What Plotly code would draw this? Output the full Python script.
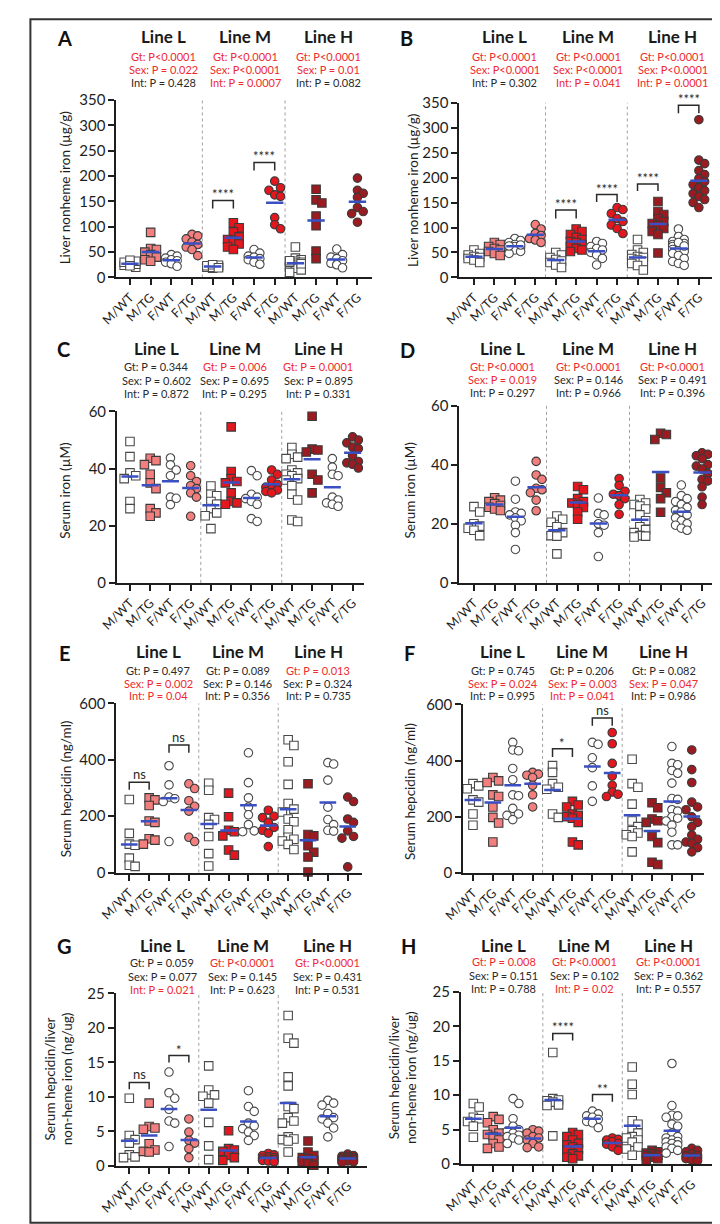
import numpy as np
import plotly.graph_objects as go

W, H = 720, 1224
FONT = "Lato"

groups = ["M/WT", "M/TG", "F/WT", "F/TG"] * 3
line_names = ["Line L", "Line M", "Line H"]

# ---------------- data ----------------
liver_iron_A = [
    [20, 24, 26, 28, 30, 32, 34, 23],
    [89, 57, 55, 50, 45, 40, 35, 32],
    [45, 42, 38, 35, 33, 30, 27, 22],
    [85, 82, 76, 70, 65, 60, 55, 43],
    [18, 20, 21, 22, 23, 24, 20, 25, 19],
    [108, 98, 90, 80, 75, 72, 66, 60, 55],
    [55, 48, 42, 40, 37, 35, 30, 26],
    [190, 177, 172, 163, 160, 118, 104, 96],
    [60, 38, 35, 32, 30, 28, 26, 24, 22, 20, 18, 15, 10, 30, 27, 33],
    [174, 153, 147, 121, 102, 52, 37],
    [56, 45, 40, 37, 33, 28, 25, 19],
    [196, 172, 166, 158, 138, 130, 126, 109],
]
liver_iron_B = [
    [55, 48, 45, 42, 40, 38, 35, 30],
    [70, 66, 62, 58, 55, 52, 48, 44],
    [78, 74, 70, 66, 62, 60, 58, 55, 52, 48, 65, 63],
    [106, 97, 88, 84, 78, 75, 70],
    [50, 45, 40, 36, 33, 30, 25, 20],
    [97, 92, 86, 80, 76, 72, 70, 66, 62, 58, 52, 55],
    [72, 68, 62, 58, 55, 50, 45, 38, 25],
    [140, 136, 128, 118, 112, 105, 98, 88],
    [76, 55, 50, 46, 42, 40, 38, 35, 32, 28, 24, 15],
    [152, 132, 126, 118, 112, 108, 104, 98, 92, 86, 49],
    [97, 82, 76, 72, 68, 66, 64, 62, 60, 58, 56, 54, 52, 48, 44, 38, 32, 28, 24, 70, 63],
    [316, 235, 228, 214, 206, 198, 192, 186, 180, 174, 168, 162, 156, 150, 140],
]
serum_iron_C = [
    [49.5, 44.2, 38.5, 37.5, 36.5, 28.5, 26],
    [43.6, 42.8, 41.4, 38, 35, 33, 26, 24.5, 23.3],
    [43.7, 41.3, 39.5, 37.5, 30, 29.6, 27.4],
    [41, 37.5, 35.5, 34, 33, 31.5, 30, 23.3],
    [33.9, 31, 30.5, 28.5, 27.5, 26, 24.5, 23.5, 19],
    [54.6, 39, 36.5, 35.5, 35, 31.5, 28.5, 28, 27.5],
    [39.3, 37.5, 31, 30, 29.5, 28.5, 27.5, 22.5, 21.5],
    [39.5, 38, 36, 34.5, 33.5, 33, 32.5, 32, 31.5],
    [47.4, 45, 44, 43.5, 39.5, 38.5, 38, 37.5, 36.5, 36, 34, 31, 29, 22, 21.5],
    [58.3, 46.8, 46.5, 45.8, 38, 36, 31.5],
    [43.5, 40.5, 38, 37.5, 30, 29, 28, 27.5, 26.8],
    [51.1, 50, 49, 47.5, 47, 44.5, 42.5, 42, 41.5, 40.2],
]
serum_iron_D = [
    [25.8, 24, 20, 19.2, 18.5, 17.8, 16],
    [28.8, 28, 27.5, 26.8, 26.2, 25.6, 25, 24.5],
    [34.4, 28.3, 24, 23.5, 23, 22, 21, 19.5, 17, 11.3],
    [41.1, 36.5, 35, 32, 31.5, 30.5, 28, 24.4],
    [22.6, 21.5, 20.5, 19, 17, 16, 15.8, 9.8],
    [32.6, 31.5, 28.5, 27.5, 27, 26.5, 25.5, 24, 21.5],
    [28.7, 23.5, 23, 20, 19.5, 17, 8.9],
    [35.3, 33, 31, 30, 29.5, 28.5, 26.5, 23.2],
    [28.2, 27, 26.5, 26, 25, 23, 21, 19, 18, 17, 16, 15.5, 15.8],
    [50.6, 50.2, 48.5, 35.5, 32.3, 30.5, 28.5, 23.9],
    [33.1, 29.5, 28.5, 27.5, 26.5, 25.5, 24.5, 24, 23, 22, 21, 20, 19.5, 18.5, 17.8],
    [44, 43.5, 43, 42, 40, 39.5, 38.5, 37, 35, 34.5, 32.5, 29, 26.5],
]
hepcidin_E = [
    [259, 139, 101, 97, 51, 26, 22],
    [265, 258, 238, 183, 178, 120, 115, 101],
    [379, 311, 268, 262, 252, 110],
    [315, 298, 255, 235, 218, 125, 110],
    [317, 292, 195, 188, 171, 128, 67, 23],
    [282, 198, 150, 145, 130, 80, 62],
    [425, 319, 265, 232, 205, 170, 148, 145],
    [221, 200, 195, 178, 160, 150, 140, 92],
    [471, 451, 393, 313, 245, 225, 215, 190, 180, 152, 125, 118, 112, 100, 82],
    [315, 135, 130, 95, 72, 55, 2],
    [390, 385, 328, 232, 188, 170, 150, 147],
    [268, 252, 190, 178, 148, 128, 122, 20],
]
hepcidin_F = [
    [318, 310, 300, 260, 252, 210, 170],
    [340, 328, 322, 278, 272, 235, 198, 178, 110],
    [465, 438, 435, 372, 332, 278, 275, 230, 210, 205, 190],
    [358, 352, 348, 340, 312, 278, 235],
    [382, 358, 318, 305, 298, 210, 198],
    [255, 242, 235, 210, 205, 200, 195, 180, 110, 100],
    [465, 458, 410, 375, 310, 255],
    [500, 460, 390, 345, 312, 288, 280, 272],
    [405, 318, 305, 245, 185, 165, 150, 142, 136, 130, 75],
    [250, 232, 192, 186, 180, 130, 108, 38, 30],
    [450, 390, 385, 365, 355, 320, 265, 262, 225, 220, 200, 195, 185, 170, 145, 100, 100],
    [438, 368, 322, 252, 235, 225, 200, 180, 165, 135, 120, 110, 105, 90, 75],
]
ratio_G = [
    [9.8, 4.4, 3.8, 3.3, 1.6, 1.2, 1.3],
    [9.1, 5.7, 5.5, 5.3, 3.2, 2.3, 2.1, 2.0],
    [13.6, 10.6, 9.8, 8.2, 6.5, 6.2, 2.8],
    [6.8, 4.9, 3.7, 3.3, 2.5, 1.2],
    [14.5, 11, 10.3, 10.1, 9.1, 6.3, 2.9, 0.9],
    [5.1, 2.5, 2.3, 2.1, 1.5, 1.2, 0.8],
    [10.9, 8.6, 7.9, 6.2, 5.8, 5.4, 4.9, 4.4, 3.7],
    [1.8, 1.6, 1.5, 1.3, 1.2, 1.1, 1.0, 0.9, 0.8, 0.7, 0.6],
    [21.8, 18.5, 17.8, 12.9, 11.6, 8.6, 8.3, 7.0, 6.5, 6.2, 4.2, 3.9, 3.8, 3.6, 2.0],
    [3.6, 2.0, 1.5, 1.2, 1.0, 0.8, 0.6, 0.4, 0.1],
    [9.5, 9.1, 8.8, 7.6, 7.0, 6.8, 6.2, 5.5, 4.2],
    [1.7, 1.5, 1.4, 1.3, 1.2, 1.1, 1.0, 0.9, 0.8, 0.7, 0.6, 0.5],
]
ratio_H = [
    [8.8, 8.3, 6.8, 6.6, 6.2, 5.5, 3.9],
    [6.9, 6.5, 6.0, 5.0, 4.5, 4.3, 4.0, 3.5, 3.0, 2.5, 2.3],
    [9.5, 8.8, 6.6, 5.5, 5.0, 4.8, 4.5, 4.2, 4.0, 3.8, 3.5, 3.0],
    [5.0, 4.8, 4.5, 4.0, 3.8, 3.5, 3.0, 2.5, 2.4],
    [16.2, 9.5, 9.3, 9.2, 9.0, 8.6, 8.5, 4.1],
    [4.6, 4.3, 4.0, 3.5, 3.0, 2.8, 2.5, 2.2, 2.0, 1.5, 1.2, 1.0, 0.8],
    [7.7, 7.3, 7.0, 6.8, 6.5, 6.2, 6.0, 5.3],
    [3.8, 3.6, 3.5, 3.3, 3.0, 2.9, 2.5, 2.0],
    [14.1, 11.6, 10.1, 6.3, 5.8, 5.0, 4.5, 4.0, 3.8, 3.5, 3.2, 2.5, 2.2, 1.3],
    [2.0, 1.8, 1.6, 1.5, 1.3, 1.2, 1.0, 0.8, 0.5],
    [14.6, 8.5, 7.1, 7.0, 6.8, 5.8, 5.5, 4.5, 4.0, 3.8, 3.5, 3.3, 3.2, 3.0, 2.8, 2.5, 2.3, 2.0, 1.6],
    [2.3, 2.0, 1.8, 1.5, 1.3, 1.2, 1.0, 0.9, 0.8, 0.6, 0.5],
]

# two-way ANOVA results: (text, significant)
stats_A = [[("Gt: P<0.0001", 1), ("Sex: P = 0.022", 1), ("Int: P = 0.428", 0)],
           [("Gt: P<0.0001", 1), ("Sex: P<0.0001", 1), ("Int: P = 0.0007", 1)],
           [("Gt: P<0.0001", 1), ("Sex: P = 0.01", 1), ("Int: P = 0.082", 0)]]
stats_B = [[("Gt: P<0.0001", 1), ("Sex: P<0.0001", 1), ("Int: P = 0.302", 0)],
           [("Gt: P<0.0001", 1), ("Sex: P<0.0001", 1), ("Int: P = 0.041", 1)],
           [("Gt: P<0.0001", 1), ("Sex: P<0.0001", 1), ("Int: P = 0.0001", 1)]]
stats_C = [[("Gt: P = 0.344", 0), ("Sex: P = 0.602", 0), ("Int: P = 0.872", 0)],
           [("Gt: P = 0.006", 1), ("Sex: P = 0.695", 0), ("Int: P = 0.295", 0)],
           [("Gt: P = 0.0001", 1), ("Sex: P = 0.895", 0), ("Int: P = 0.331", 0)]]
stats_D = [[("Gt: P<0.0001", 1), ("Sex: P = 0.019", 1), ("Int: P = 0.297", 0)],
           [("Gt: P<0.0001", 1), ("Sex: P = 0.146", 0), ("Int: P = 0.966", 0)],
           [("Gt: P<0.0001", 1), ("Sex: P = 0.491", 0), ("Int: P = 0.396", 0)]]
stats_E = [[("Gt: P = 0.497", 0), ("Sex: P = 0.002", 1), ("Int: P = 0.04", 1)],
           [("Gt: P = 0.089", 0), ("Sex: P = 0.146", 0), ("Int: P = 0.356", 0)],
           [("Gt: P = 0.013", 1), ("Sex: P = 0.324", 0), ("Int: P = 0.735", 0)]]
stats_F = [[("Gt: P = 0.745", 0), ("Sex: P = 0.024", 1), ("Int: P = 0.995", 0)],
           [("Gt: P = 0.206", 0), ("Sex: P = 0.003", 1), ("Int: P = 0.041", 1)],
           [("Gt: P = 0.082", 0), ("Sex: P = 0.047", 1), ("Int: P = 0.986", 0)]]
stats_G = [[("Gt: P = 0.059", 0), ("Sex: P = 0.077", 0), ("Int: P = 0.021", 1)],
           [("Gt: P<0.0001", 1), ("Sex: P = 0.145", 0), ("Int: P = 0.623", 0)],
           [("Gt: P<0.0001", 1), ("Sex: P = 0.431", 0), ("Int: P = 0.531", 0)]]
stats_H = [[("Gt: P = 0.008", 1), ("Sex: P = 0.151", 0), ("Int: P = 0.788", 0)],
           [("Gt: P<0.0001", 1), ("Sex: P = 0.102", 0), ("Int: P = 0.02", 1)],
           [("Gt: P<0.0001", 1), ("Sex: P = 0.362", 0), ("Int: P = 0.557", 0)]]

# post-hoc comparisons: (group i, group j, bracket top, leg end, label)
brackets_A = [(4, 5, 152, 136, "****"), (6, 7, 227, 211, "****")]
brackets_B = [(4, 5, 135, 118, "****"), (6, 7, 166, 151, "****"),
              (8, 9, 187, 173, "****"), (10, 11, 345, 329, "****")]
brackets_C = []
brackets_D = []
brackets_E = [(0, 1, 320, 294, "ns"), (2, 3, 453, 425, "ns")]
brackets_F = [(4, 5, 442, 413, "*"), (6, 7, 552, 524, "ns")]
brackets_G = [(0, 1, 12.1, 11.1, "ns"), (2, 3, 16.0, 15.0, "*")]
brackets_H = [(4, 5, 18.95, 17.95, "****"), (6, 7, 10.1, 9.05, "**")]

# ---------------- styling ----------------
RED_TXT = "#EE2A2F"
BLK_TXT = "#2A2A2A"
AXC = "#1E1E1E"
TG_COLORS = ["#F27E7E", "#E4171E", "#9B1B21"]
WT_EDGE = "#4A4A4A"
TG_EDGE = "#3A3A3A"
MEAN_C = "#3A4FC2"
MS = 8.5

# pixel layout of each panel
panels = [
    dict(key="A", data=liver_iron_A, stats=stats_A, br=brackets_A, ax=90, t0=104, t11=338.3, end=353.3,
         top=83.3, bot=263.3, ymax=350, dtick=50, ytitle="Liver nonheme iron (µg/g)", ytx=38, yty=172,
         letter=(37, 20), ty=19, sy=(39, 52, 65), cx=(139, 223, 309)),
    dict(key="B", data=liver_iron_B, stats=stats_B, br=brackets_B, ax=443.3, t0=458.3, t11=690, end=703.3,
         top=86, bot=263.3, ymax=350, dtick=50, ytitle="Liver nonheme iron (µg/g)", ytx=396, yty=175,
         letter=(389, 20), ty=19, sy=(39, 52, 65), cx=(490, 576, 663)),
    dict(key="C", data=serum_iron_C, stats=stats_C, br=brackets_C, ax=90.7, t0=104, t11=333.3, end=345,
         top=399.3, bot=573.3, ymax=60, dtick=20, ytitle="Serum iron (µM)", ytx=37, yty=480,
         letter=(36, 336), ty=335, sy=(354, 368, 381), cx=(131, 212, 298)),
    dict(key="D", data=serum_iron_D, stats=stats_D, br=brackets_D, ax=443.3, t0=458.3, t11=693.3, end=708.3,
         top=393.3, bot=573.3, ymax=60, dtick=20, ytitle="Serum iron (µM)", ytx=392, yty=480,
         letter=(390, 337), ty=335, sy=(354, 367, 380), cx=(488, 576, 663)),
    dict(key="E", data=hepcidin_E, stats=stats_E, br=brackets_E, ax=90, t0=103.3, t11=328.3, end=343.3,
         top=695.7, bot=867.3, ymax=600, dtick=200, ytitle="Serum hepcidin (ng/ml)", ytx=39, yty=782,
         letter=(37, 644), ty=643, sy=(662, 675, 688), cx=(133, 215, 298)),
    dict(key="F", data=hepcidin_F, stats=stats_F, br=brackets_F, ax=447.3, t0=457.3, t11=682.7, end=695,
         top=696.7, bot=867.7, ymax=600, dtick=200, ytitle="Serum hepcidin (ng/ml)", ytx=393, yty=785,
         letter=(392, 644), ty=643, sy=(662, 675, 688), cx=(488, 570, 654)),
    dict(key="G", data=ratio_G, stats=stats_G, br=brackets_G, ax=89.3, t0=103.3, t11=328.3, end=348.3,
         top=990, bot=1165, ymax=25, dtick=5, ytitle="Serum hepcidin/liver<br>non-heme iron (ng/ug)",
         ytx=31, yty=1077, letter=(37, 942), ty=941, sy=(959, 973, 986), cx=(137, 220, 307)),
    dict(key="H", data=ratio_H, stats=stats_H, br=brackets_H, ax=445, t0=457.7, t11=682.7, end=703.3,
         top=988.3, bot=1163.3, ymax=25, dtick=5, ytitle="Serum hepcidin/liver<br>non-heme iron (ng/ug)",
         ytx=385, yty=1075, letter=(391, 942), ty=941, sy=(958, 972, 985), cx=(489, 572, 659)),
]


def px_x(p):
    return p / W


def px_y(p):
    return 1 - p / H


def swarm(vals, ppu, ppc, msize):
    """Beeswarm-like horizontal offsets (in category units)."""
    vals = np.asarray(vals, dtype=float)
    order = np.argsort(-vals)
    step = msize * 0.7
    cands = [0.0]
    for k in range(1, 4):
        cands += [k * step, -k * step]
    cands = [c for c in cands if abs(c) <= 9.5]
    placed = []
    offs = np.zeros(len(vals))
    for idx in order:
        y = vals[idx] * ppu
        best, best_d = 0.0, -1
        for c in cands:
            d = min([np.hypot(c - a, y - b) for a, b in placed] + [1e9])
            if d >= msize * 0.8:
                best = c
                break
            if d > best_d:
                best_d, best = d, c
        placed.append((best, y))
        offs[idx] = best / ppc
    return offs


fig = go.Figure()
shapes = []
annotations = []
layout_axes = {}

for n, p in enumerate(panels, start=1):
    xa = "x" if n == 1 else f"x{n}"
    ya = "y" if n == 1 else f"y{n}"
    s = (p["t11"] - p["t0"]) / 11.0
    xmin = -(p["t0"] - p["ax"]) / s
    xmax = 11 + (p["end"] - p["t11"]) / s
    ppu = (p["bot"] - p["top"]) / p["ymax"]

    layout_axes["xaxis" if n == 1 else f"xaxis{n}"] = dict(
        domain=[px_x(p["ax"]), px_x(p["end"])], range=[xmin, xmax], anchor=ya,
        tickvals=list(range(12)), ticktext=groups, tickangle=-45,
        tickfont=dict(family=FONT, size=12.5, color=AXC),
        showline=True, linecolor=AXC, linewidth=2, ticks="outside", ticklen=6, tickwidth=2,
        tickcolor=AXC, showgrid=False, zeroline=False, fixedrange=True)
    layout_axes["yaxis" if n == 1 else f"yaxis{n}"] = dict(
        domain=[px_y(p["bot"]), px_y(p["top"])], range=[0, p["ymax"]], anchor=xa,
        tickvals=list(np.arange(0, p["ymax"] + 1e-9, p["dtick"])),
        tickfont=dict(family=FONT, size=15, color=AXC),
        showline=True, linecolor=AXC, linewidth=2, ticks="outside", ticklen=6, tickwidth=2,
        tickcolor=AXC, showgrid=False, zeroline=False, fixedrange=True)

    mean_x, mean_y = [], []
    for gi, vals in enumerate(p["data"]):
        line_i = gi // 4
        is_m = groups[gi].startswith("M")
        is_tg = groups[gi].endswith("TG")
        offs = swarm(vals, ppu, s, MS)
        fig.add_trace(go.Scatter(
            x=gi + offs, y=vals, mode="markers", xaxis=xa, yaxis=ya, cliponaxis=False,
            showlegend=False, hoverinfo="y",
            marker=dict(symbol="square" if is_m else "circle", size=MS,
                        color=TG_COLORS[line_i] if is_tg else "white",
                        line=dict(color=TG_EDGE if is_tg else WT_EDGE, width=1.1))))
        m = float(np.mean(vals))
        mean_x += [gi - 0.42, gi + 0.42, None]
        mean_y += [m, m, None]
    fig.add_trace(go.Scatter(x=mean_x, y=mean_y, mode="lines", xaxis=xa, yaxis=ya,
                             cliponaxis=False, showlegend=False, hoverinfo="skip",
                             line=dict(color=MEAN_C, width=2.5)))

    # dotted separators between lines
    for xs in (3.5, 7.5):
        shapes.append(dict(type="line", xref=xa, yref=f"{ya} domain", x0=xs, x1=xs, y0=0, y1=1,
                           line=dict(color="#A0A0A0", width=1, dash="dot"), layer="below"))

    # significance brackets
    for (i, j, yt, yl, lab) in p["br"]:
        shapes.append(dict(type="path", xref=xa, yref=ya,
                           path=f"M {i},{yl} L {i},{yt} L {j},{yt} L {j},{yl}",
                           line=dict(color="#2A2A2A", width=1.5)))
        annotations.append(dict(x=(i + j) / 2, y=yt, xref=xa, yref=ya, text=lab, showarrow=False,
                                yanchor="bottom", yshift=-4 if "*" in lab else -2,
                                font=dict(family=FONT, size=13, color="#2A2A2A")))

    # panel letter
    annotations.append(dict(x=px_x(p["letter"][0]), y=px_y(p["letter"][1]), xref="paper", yref="paper",
                            text=f"<b>{p['key']}</b>", showarrow=False, xanchor="center", yanchor="middle",
                            font=dict(family=FONT, size=20, color="#111")))
    # line titles and ANOVA stats
    for li in range(3):
        annotations.append(dict(x=px_x(p["cx"][li]), y=px_y(p["ty"]), xref="paper", yref="paper",
                                text=f"<b>{line_names[li]}</b>", showarrow=False,
                                xanchor="center", yanchor="middle",
                                font=dict(family=FONT, size=17, color="#1A1A1A")))
        for ri, (txt, sig) in enumerate(p["stats"][li]):
            annotations.append(dict(x=px_x(p["cx"][li]), y=px_y(p["sy"][ri]), xref="paper", yref="paper",
                                    text=txt, showarrow=False, xanchor="center", yanchor="middle",
                                    font=dict(family=FONT, size=11, color=RED_TXT if sig else BLK_TXT)))
    # y-axis title
    annotations.append(dict(x=px_x(p["ytx"]), y=px_y(p["yty"]), xref="paper", yref="paper",
                            text=p["ytitle"], showarrow=False, textangle=-90,
                            xanchor="center", yanchor="middle",
                            font=dict(family=FONT, size=13.5, color=AXC)))

# outer frame
shapes.append(dict(type="rect", xref="paper", yref="paper", x0=0.002, x1=0.997, y0=0.001, y1=0.999,
                   line=dict(color="#333333", width=2)))

fig.update_layout(
    width=W, height=H, margin=dict(l=0, r=0, t=0, b=0),
    paper_bgcolor="white", plot_bgcolor="white",
    font=dict(family=FONT, color=AXC),
    shapes=shapes, annotations=annotations, **layout_axes)

fig.write_html("out.html")
